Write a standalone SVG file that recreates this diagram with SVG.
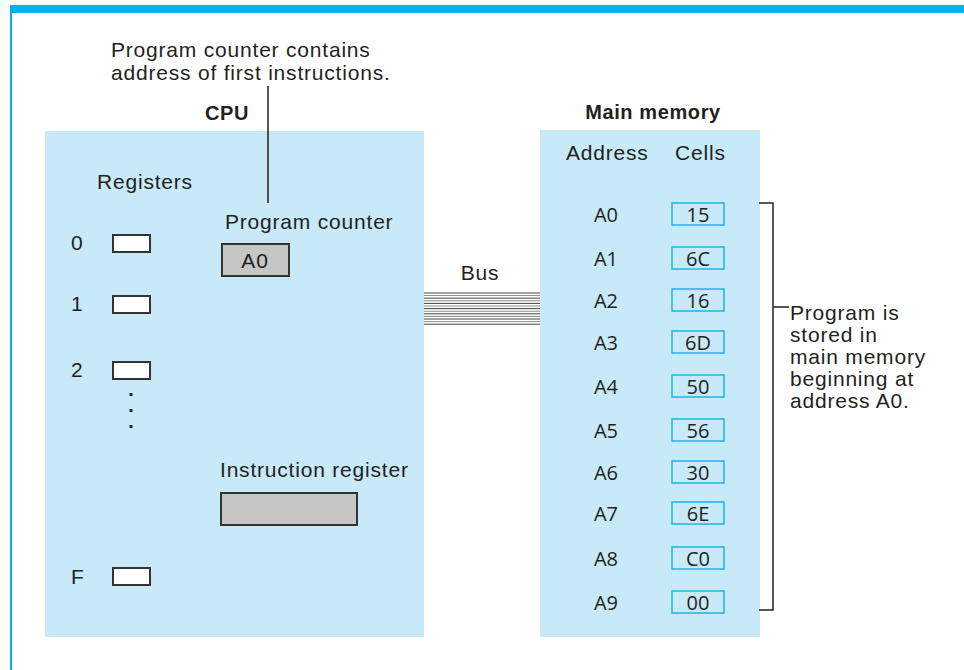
<svg xmlns="http://www.w3.org/2000/svg" width="964" height="670" viewBox="0 0 964 670">
<style>
.t{font-family:"Liberation Sans",Arial,sans-serif;font-size:21px;fill:#231f20;letter-spacing:0.8px}
.b{font-family:"Liberation Sans",Arial,sans-serif;font-size:20px;font-weight:bold;fill:#231f20;letter-spacing:0.6px}
.m{font-family:"Open Sans","Noto Sans",sans-serif;font-size:20px;fill:#231f20;text-anchor:middle}
.panel{fill:#c7e9f8}
.reg{fill:#ffffff;stroke:#333;stroke-width:2}
.gray{fill:#c6c6c6;stroke:#333;stroke-width:2}
.cell{fill:#c7e9f8;stroke:#1cb3ec;stroke-width:1.5}
.ln{stroke:#231f20;stroke-width:1.5;fill:none}
</style>
<rect x="0" y="0" width="964" height="670" fill="#ffffff"/>
<rect x="10" y="5" width="954" height="8" fill="#00b0f0"/>
<rect x="10" y="5" width="2" height="665" fill="#00b0f0"/>

<g id="annotation">
<text class="t" x="111" y="57">Program counter contains</text>
<text class="t" x="111" y="80">address of first instructions.</text>
</g>

<g id="cpu">
<rect class="panel" x="45" y="131" width="379" height="506"/>
<text class="b" x="227" y="120" text-anchor="middle">CPU</text>
<text class="t" x="97" y="189">Registers</text>
<text class="t" x="71" y="250">0</text>
<rect class="reg" x="113" y="235" width="37" height="17"/>
<text class="t" x="71" y="311">1</text>
<rect class="reg" x="113" y="296" width="37" height="17"/>
<text class="t" x="71" y="377">2</text>
<rect class="reg" x="113" y="362" width="37" height="17"/>
<rect x="129.5" y="393" width="3" height="3" fill="#231f20"/>
<rect x="129.5" y="409" width="3" height="3" fill="#231f20"/>
<rect x="129.5" y="425" width="3" height="3" fill="#231f20"/>
<text class="t" x="71" y="584">F</text>
<rect class="reg" x="113" y="568" width="37" height="17"/>
<text class="t" x="225" y="229">Program counter</text>
<rect class="gray" x="222" y="244" width="67" height="32"/>
<text class="t" x="255" y="268" text-anchor="middle">A0</text>
<text class="t" x="220" y="477">Instruction register</text>
<rect class="gray" x="221" y="493" width="136" height="32"/>
</g>

<g id="memory">
<rect class="panel" x="540" y="130" width="220" height="507"/>
<text class="b" x="653" y="119" text-anchor="middle">Main memory</text>
<text class="t" x="566" y="160">Address</text>
<text class="t" x="675" y="160">Cells</text>
<g id="cells">
<text class="m" x="606" y="222">A0</text><rect class="cell" x="672" y="203" width="52" height="22"/><text class="m" x="698" y="222">15</text>
<text class="m" x="606" y="266">A1</text><rect class="cell" x="672" y="247" width="52" height="22"/><text class="m" x="698" y="266">6C</text>
<text class="m" x="606" y="308">A2</text><rect class="cell" x="672" y="289" width="52" height="22"/><text class="m" x="698" y="308">16</text>
<text class="m" x="606" y="350">A3</text><rect class="cell" x="672" y="331" width="52" height="22"/><text class="m" x="698" y="350">6D</text>
<text class="m" x="606" y="394">A4</text><rect class="cell" x="672" y="375" width="52" height="22"/><text class="m" x="698" y="394">50</text>
<text class="m" x="606" y="438">A5</text><rect class="cell" x="672" y="419" width="52" height="22"/><text class="m" x="698" y="438">56</text>
<text class="m" x="606" y="480">A6</text><rect class="cell" x="672" y="461" width="52" height="22"/><text class="m" x="698" y="480">30</text>
<text class="m" x="606" y="521">A7</text><rect class="cell" x="672" y="502" width="52" height="22"/><text class="m" x="698" y="521">6E</text>
<text class="m" x="606" y="566">A8</text><rect class="cell" x="672" y="547" width="52" height="22"/><text class="m" x="698" y="566">C0</text>
<text class="m" x="606" y="610">A9</text><rect class="cell" x="672" y="591" width="52" height="22"/><text class="m" x="698" y="610">00</text>
</g>
</g>

<g id="program-note">
<text class="t" x="790" y="320">Program is</text>
<text class="t" x="790" y="342">stored in</text>
<text class="t" x="790" y="364">main memory</text>
<text class="t" x="790" y="386">beginning at</text>
<text class="t" x="790" y="408">address A0.</text>
</g>

<g id="connectors">
<path class="ln" d="M268 86 V203"/>
<path class="ln" d="M759 203 H773 V610 H759 M773 307 H789"/>
<g id="bus">
<text class="t" x="480" y="280" text-anchor="middle">Bus</text>
<g stroke-width="1">
<line x1="424" y1="293" x2="540" y2="293" stroke="#444"/>
<line x1="424" y1="295.6" x2="540" y2="295.6" stroke="#888"/>
<line x1="424" y1="298.2" x2="540" y2="298.2" stroke="#444"/>
<line x1="424" y1="300.8" x2="540" y2="300.8" stroke="#888"/>
<line x1="424" y1="303.4" x2="540" y2="303.4" stroke="#444"/>
<line x1="424" y1="306" x2="540" y2="306" stroke="#888"/>
<line x1="424" y1="308.6" x2="540" y2="308.6" stroke="#444"/>
<line x1="424" y1="311.2" x2="540" y2="311.2" stroke="#888"/>
<line x1="424" y1="313.8" x2="540" y2="313.8" stroke="#444"/>
<line x1="424" y1="316.4" x2="540" y2="316.4" stroke="#888"/>
<line x1="424" y1="319" x2="540" y2="319" stroke="#444"/>
<line x1="424" y1="321.6" x2="540" y2="321.6" stroke="#888"/>
<line x1="424" y1="324.2" x2="540" y2="324.2" stroke="#444"/>
</g>
</g>
</g>
</svg>
